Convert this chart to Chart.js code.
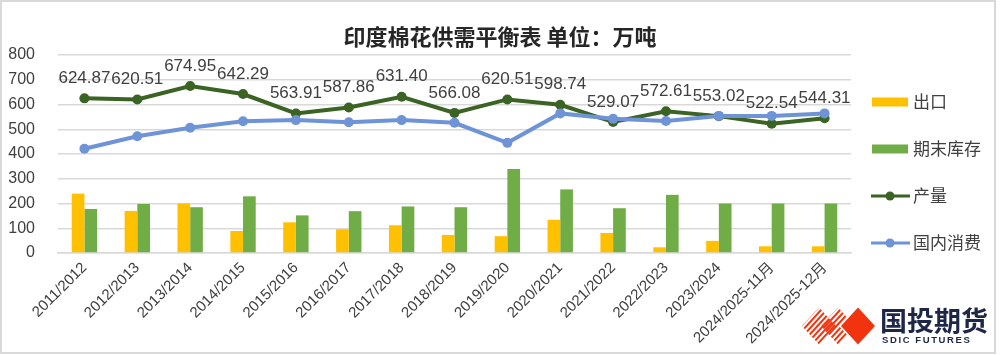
<!DOCTYPE html>
<html>
<head>
<meta charset="utf-8">
<script src="https://cdn.jsdelivr.net/npm/chart.js@4.4.1/dist/chart.umd.min.js"></script>
<style>
  html, body { margin: 0; padding: 0; background: #ffffff; }
  #wrap { position: relative; width: 1000px; height: 355px; }
</style>
</head>
<body>
<div id="wrap"><canvas id="c"></canvas></div>
<script>
const categories = ['2011/2012','2012/2013','2013/2014','2014/2015','2015/2016','2016/2017','2017/2018','2018/2019','2019/2020','2020/2021','2021/2022','2022/2023','2023/2024','2024/2025-11月','2024/2025-12月'];
const exportsData = [240, 170, 200, 89, 124, 96, 112, 73, 68, 134, 81, 23, 49, 27, 27];
const endingStocks = [178, 198, 185, 229, 152, 169, 188, 185, 339, 257, 181, 235, 200, 200, 200];
const production = [624.87, 620.51, 674.95, 642.29, 563.91, 587.86, 631.40, 566.08, 620.51, 598.74, 529.07, 572.61, 553.02, 522.54, 544.31];
const consumption = [421, 472, 506, 532, 537, 528, 537, 526, 445, 564, 542, 533, 554, 554, 564];
const yTicks = [0, 100, 200, 300, 400, 500, 600, 700, 800];
const titleText = '印度棉花供需平衡表 单位：万吨';
const seriesNames = ['出口', '期末库存', '产量', '国内消费'];

const FONT = "'Liberation Sans', 'Noto Sans CJK SC', sans-serif";
const CJK = "'Noto Sans CJK SC', 'Liberation Sans', sans-serif";
const TXT = '#404040';

const framePlugin = {
  id: 'frame',
  beforeDraw(chart) {
    const ctx = chart.ctx;
    ctx.save();
    ctx.fillStyle = '#ffffff';
    ctx.fillRect(0, 0, chart.width, chart.height);
    ctx.restore();
  },
  afterDraw(chart) {
    const ctx = chart.ctx;
    ctx.save();
    ctx.strokeStyle = '#d9d9d9';
    ctx.lineWidth = 2;
    ctx.strokeRect(1, 1, 994, 352);
    ctx.fillStyle = '#262626';
    ctx.font = "bold 22px " + CJK;
    ctx.textAlign = 'center';
    ctx.textBaseline = 'middle';
    ctx.fillText(titleText, 500, 37);
    ctx.restore();
  }
};

const labelPlugin = {
  id: 'prodLabels',
  afterDatasetsDraw(chart) {
    const idx = chart.data.datasets.findIndex(d => d.label === seriesNames[2]);
    const meta = chart.getDatasetMeta(idx);
    const ctx = chart.ctx;
    ctx.save();
    ctx.fillStyle = TXT;
    ctx.font = "17px " + FONT;
    ctx.textAlign = 'center';
    ctx.textBaseline = 'middle';
    meta.data.forEach((pt, i) => {
      ctx.fillText(production[i].toFixed(2), pt.x, pt.y - 20);
    });
    ctx.restore();
  }
};

const legendPlugin = {
  id: 'customLegend',
  afterDraw(chart) {
    const ctx = chart.ctx;
    const ys = [102, 149, 196, 243];
    ctx.save();
    seriesNames.forEach((name, k) => {
      const ds = chart.data.datasets.find(d => d.label === name);
      const y = ys[k];
      if (ds.type === 'bar') {
        ctx.fillStyle = ds.backgroundColor;
        ctx.fillRect(872, y - 4.5, 36, 9);
      } else {
        ctx.strokeStyle = ds.borderColor;
        ctx.lineWidth = 3;
        ctx.beginPath();
        ctx.moveTo(871, y);
        ctx.lineTo(910, y);
        ctx.stroke();
        ctx.fillStyle = ds.borderColor;
        ctx.beginPath();
        ctx.arc(890, y, 4.5, 0, Math.PI * 2);
        ctx.fill();
      }
      ctx.fillStyle = TXT;
      ctx.font = "17px " + CJK;
      ctx.textAlign = 'left';
      ctx.textBaseline = 'middle';
      ctx.fillText(name, 913, y);
    });
    ctx.restore();
  }
};

const logoPlugin = {
  id: 'logo',
  afterDraw(chart) {
    const ctx = chart.ctx;
    ctx.save();
    const red = '#f2330f';
    const cy = 326, hw = 17, hh = 18.5;
    function diamond(cx) {
      ctx.beginPath();
      ctx.moveTo(cx, cy - hh);
      ctx.lineTo(cx + hw, cy);
      ctx.lineTo(cx, cy + hh);
      ctx.lineTo(cx - hw, cy);
      ctx.closePath();
    }
    [819, 838].forEach(cx => {
      ctx.save();
      diamond(cx);
      ctx.clip();
      ctx.strokeStyle = red;
      ctx.lineWidth = 2;
      for (let s = -40; s <= 40; s += 5.5) {
        ctx.beginPath();
        ctx.moveTo(cx + s - 30, cy + 33);
        ctx.lineTo(cx + s + 30, cy - 33);
        ctx.stroke();
      }
      ctx.restore();
    });
    ctx.save();
    diamond(858);
    ctx.lineWidth = 3;
    ctx.strokeStyle = '#ffffff';
    ctx.stroke();
    ctx.restore();
    ctx.fillStyle = red;
    diamond(858);
    ctx.fill();
    ctx.fillStyle = '#1f2747';
    ctx.font = "bold 27px " + CJK;
    ctx.textAlign = 'left';
    ctx.textBaseline = 'middle';
    ctx.fillText('国投期货', 880, 321);
    ctx.font = "bold 9.5px " + FONT;
    const t = 'SDIC FUTURES';
    let x = 882;
    for (const ch of t) {
      ctx.fillText(ch, x, 340);
      x += ctx.measureText(ch).width + 1.6;
    }
    ctx.restore();
  }
};

new Chart(document.getElementById('c'), {
  data: {
    labels: categories,
    datasets: [
      { type: 'bar', label: seriesNames[0], data: exportsData, backgroundColor: '#FFC000', order: 2,
        categoryPercentage: 0.48, barPercentage: 1.0 },
      { type: 'bar', label: seriesNames[1], data: endingStocks, backgroundColor: '#70AD47', order: 2,
        categoryPercentage: 0.48, barPercentage: 1.0 },
      { type: 'line', label: seriesNames[2], data: production, borderColor: '#3B6323', backgroundColor: '#3B6323',
        borderWidth: 4, pointRadius: 5, pointHoverRadius: 5, pointBackgroundColor: '#3B6323', pointBorderWidth: 0, order: 1, tension: 0 },
      { type: 'line', label: seriesNames[3], data: consumption, borderColor: '#6E93D6', backgroundColor: '#6E93D6',
        borderWidth: 4, pointRadius: 5, pointHoverRadius: 5, pointBackgroundColor: '#6E93D6', pointBorderWidth: 0, order: 0, tension: 0 }
    ]
  },
  options: {
    responsive: true,
    maintainAspectRatio: false,
    devicePixelRatio: 1,
    animation: false,
    events: [],
    layout: { padding: { left: 0, top: 55, right: 149, bottom: 0 } },
    plugins: { legend: { display: false }, title: { display: false }, tooltip: { enabled: false } },
    scales: {
      x: {
        grid: { display: false, drawTicks: false },
        border: { display: true, color: '#d9d9d9', width: 1.5 },
        ticks: { color: TXT, font: { family: FONT, size: 15 }, maxRotation: 45, minRotation: 45, autoSkip: false, padding: 6 },
        afterFit(scale) { scale.height = 102; }
      },
      y: {
        min: 0, max: 800,
        afterBuildTicks(scale) { scale.ticks = yTicks.map(v => ({ value: v })); },
        grid: { color: '#d9d9d9', lineWidth: 1.5, drawTicks: false },
        border: { display: false },
        ticks: { color: TXT, font: { family: FONT, size: 16 }, padding: 23 },
        afterFit(scale) { scale.width = 58; }
      }
    }
  },
  plugins: [framePlugin, labelPlugin, legendPlugin, logoPlugin]
});
</script>
</body>
</html>
